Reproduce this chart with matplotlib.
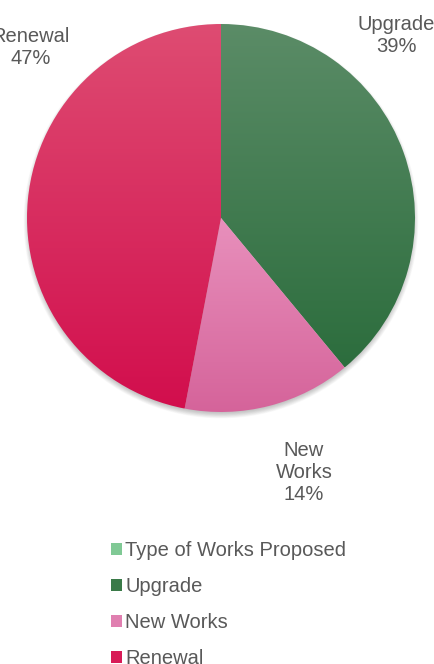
import matplotlib
matplotlib.use("Agg")
import matplotlib.pyplot as plt
import numpy as np
from matplotlib.colors import LinearSegmentedColormap
from matplotlib.patches import Patch, Circle

# data
series_name = "Type of Works Proposed"
categories = ["Upgrade", "New Works", "Renewal"]
shares = [39, 14, 47]

# styles (top -> bottom gradient of each slice)
top_colors = ["#5b8c67", "#e890bc", "#de4c72"]
bottom_colors = ["#2c6d3d", "#d5639a", "#d20e4d"]
legend_colors = ["#80c995", "#3a7a48", "#e07fb0", "#d81b57"]
text_color = "#595959"
fs = 14.5

plt.rcParams["font.family"] = ["Liberation Sans", "DejaVu Sans"]

W, H = 435, 664
fig = plt.figure(figsize=(W / 100, H / 100), dpi=100)
ax = fig.add_axes([0, 0, 1, 1])

cx, cy, r = 221, H - 218, 194

# soft shadow under the pie
for i in range(10):
    ax.add_patch(Circle((cx, cy - 3), r - 2 + i * 0.6, color="k",
                        alpha=0.025, lw=0, zorder=0))

wedges, _ = ax.pie(shares, startangle=90, counterclock=False,
                   center=(cx, cy), radius=r,
                   wedgeprops=dict(linewidth=0))

for w, c0, c1 in zip(wedges, top_colors, bottom_colors):
    path = w.get_path().transformed(w.get_patch_transform())
    x0, y0 = path.vertices.min(axis=0)
    x1, y1 = path.vertices.max(axis=0)
    cmap = LinearSegmentedColormap.from_list("g", [c0, c1])
    grad = np.linspace(0, 1, 256).reshape(-1, 1)
    im = ax.imshow(grad, cmap=cmap, extent=(x0, x1, y0, y1), origin="upper",
                   aspect="auto", zorder=1)
    im.set_clip_path(w)
    w.set_facecolor("none")

# data labels (Renewal and Upgrade run off the edges as in the original)
ax.text(31, H - 48, "%s\n%d%%" % (categories[2], shares[2]), ha="center",
        va="center", fontsize=fs, color=text_color, zorder=3)
ax.text(396, H - 35, "%s\n%d%%" % (categories[0], shares[0]), ha="center",
        va="center", fontsize=fs, color=text_color, zorder=3)
ax.text(304, H - 473, "New\nWorks\n%d%%" % shares[1], ha="center",
        va="center", fontsize=fs, color=text_color, zorder=3)

ax.set_xlim(0, W)
ax.set_ylim(0, H)
ax.set_aspect("auto")
ax.axis("off")

handles = [Patch(facecolor=c, edgecolor="none") for c in legend_colors]
labels = [series_name] + categories
fig.legend(handles, labels, loc="upper left",
           bbox_to_anchor=(111 / W, 1 - 541 / H), frameon=False,
           fontsize=fs, labelcolor=text_color, handlelength=0.55,
           handleheight=0.55, handletextpad=0.15, labelspacing=0.85,
           borderpad=0, borderaxespad=0)

fig.savefig("out.png", dpi=100)
